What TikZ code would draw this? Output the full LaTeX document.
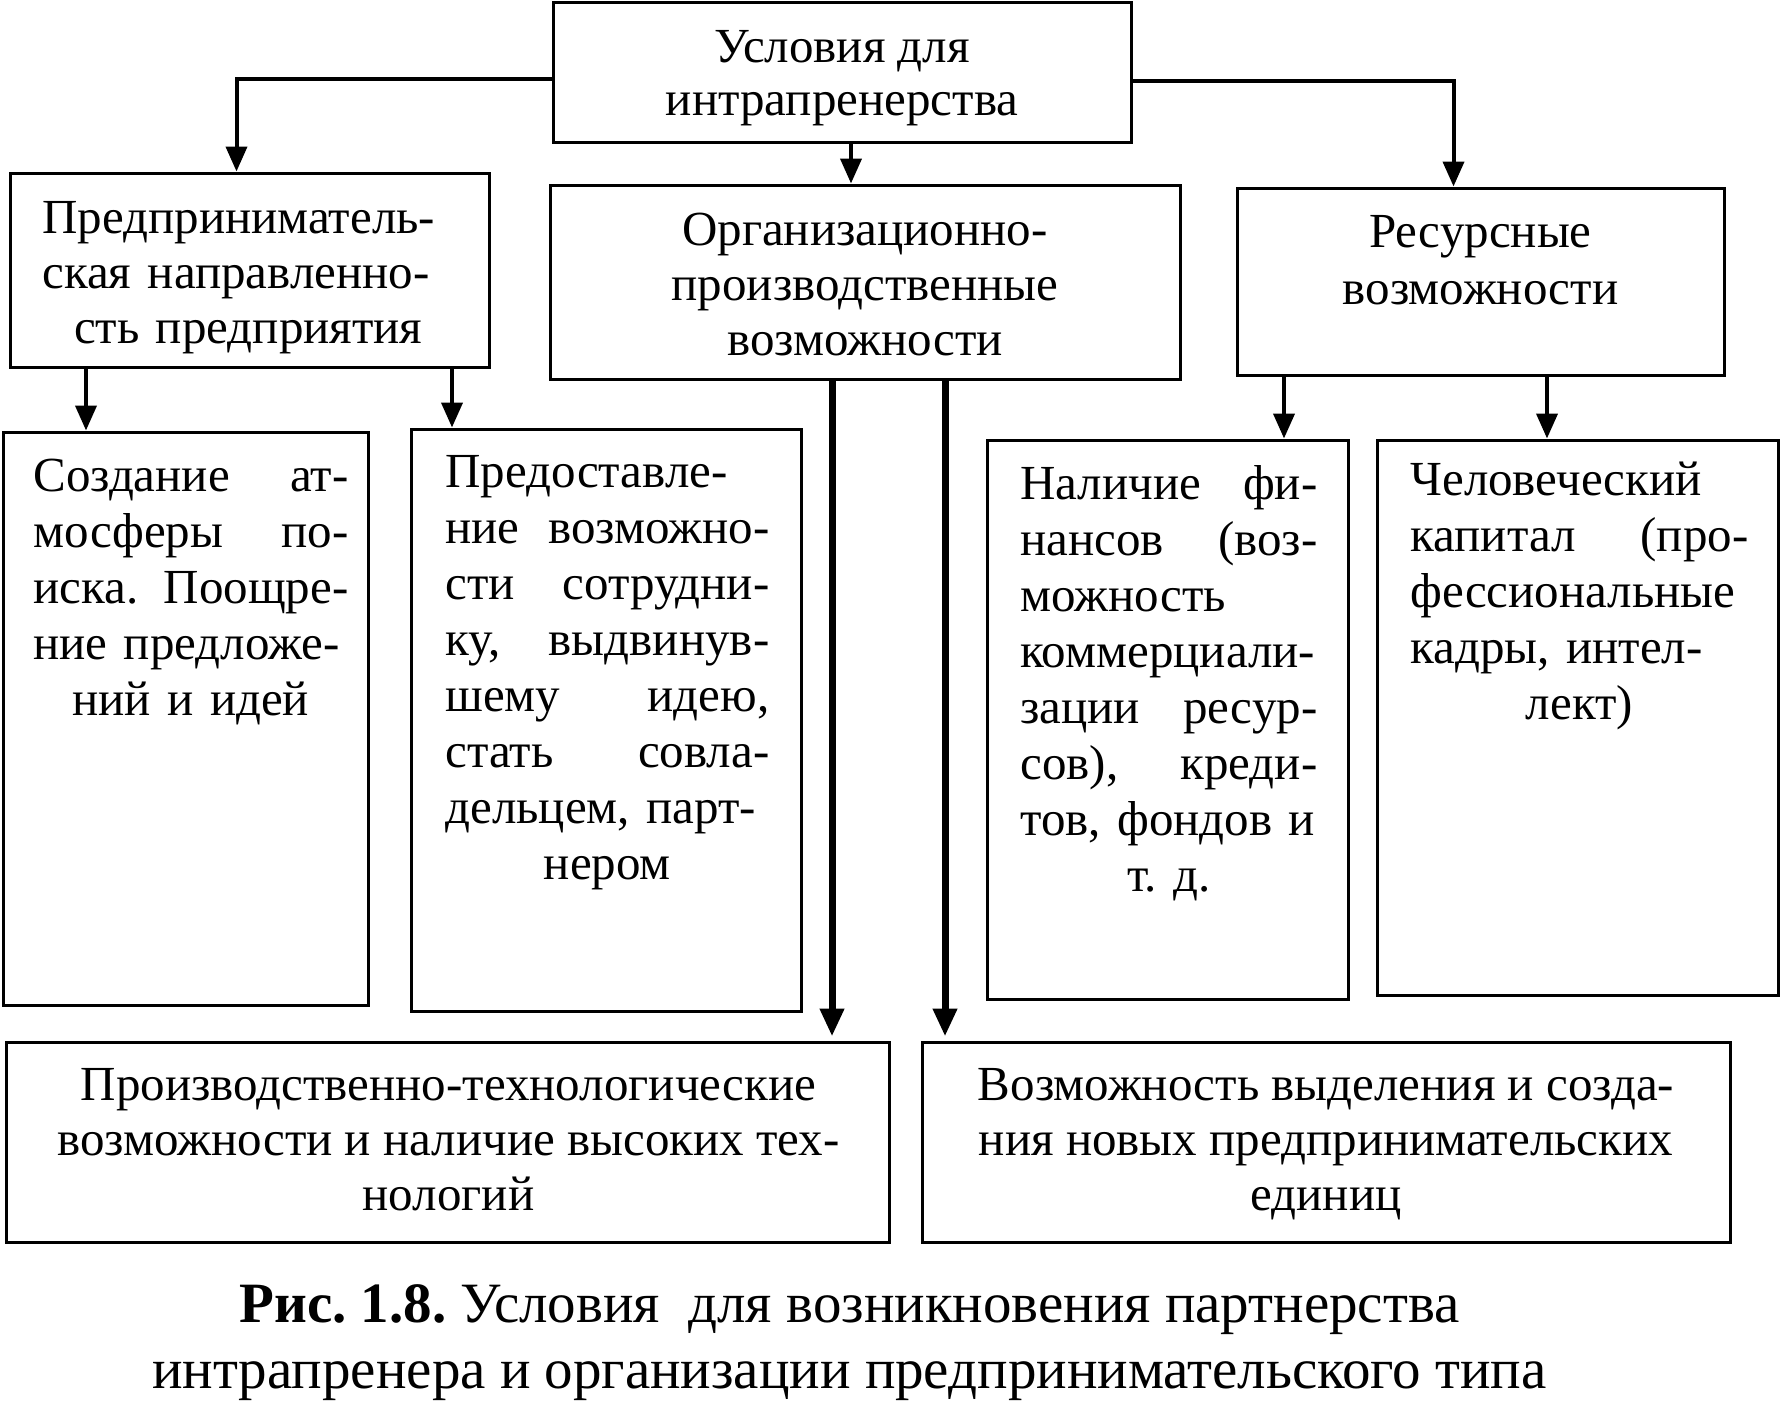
\documentclass[tikz,border=0pt]{standalone}
\usepackage{fontspec}
\setmainfont{Liberation Serif}
\usetikzlibrary{arrows.meta}
\frenchspacing
\newcommand\firstline{\rule{0pt}{19pt}}
\newcommand\JLine[2]{\makebox[\linewidth][l]{#1\hfill #2}}
\newcommand\LLine[1]{\makebox[\linewidth][l]{#1}}
\newcommand\CLine[1]{\makebox[\linewidth][c]{#1}}
\begin{document}
\begin{tikzpicture}[x=0.5pt,y=-0.5pt,
  box/.style={draw, line width=1.5pt, inner sep=0pt},
  conn/.style={line width=2pt, -{Triangle[length=12.5pt,width=10.5pt]}},
  bigconn/.style={line width=3.5pt, -{Triangle[length=14pt,width=11.5pt]}},
  txt/.style={inner sep=0pt, font=\fontsize{24.5}{28}\selectfont}]
\fill[white] (0,0) rectangle (1781,1402);
\useasboundingbox (0,0) rectangle (1781,1402);

% boxes
\node[box, minimum width=289pt,   minimum height=69.5pt] (top)   at (842,72.5) {};
\node[box, minimum width=239.5pt, minimum height=97pt]   (pred)  at (249.5,270) {};
\node[box, minimum width=315pt,   minimum height=97pt]   (org)   at (865,282) {};
\node[box, minimum width=243.5pt, minimum height=93.5pt] (res)   at (1480.5,281.5) {};
\node[box, minimum width=182.75pt,minimum height=286.5pt](sozd)  at (185.75,718.5) {};
\node[box, minimum width=194.75pt,minimum height=291pt]  (prov)  at (606.25,720) {};
\node[box, minimum width=180.25pt,minimum height=279.5pt](nal)   at (1167.75,719.5) {};
\node[box, minimum width=200.5pt, minimum height=277.5pt](chel)  at (1577.5,717.5) {};
\node[box, minimum width=441.5pt, minimum height=100pt]  (bl)    at (447.5,1142) {};
\node[box, minimum width=404pt,   minimum height=100pt]  (br)    at (1326,1142) {};

% texts
\node[txt, anchor=north, align=center, font=\fontsize{24.5}{26.5}\selectfont] (ttop) at (842,24)
  {\firstline Условия для\\интрапренерства};
\node[txt, anchor=north west, text width=196pt, align=left, font=\fontsize{24.5}{27.5}\selectfont] (tpred) at (42,195)
  {\firstline\LLine{Предприниматель-}\\\LLine{ская направленно-}\\\makebox[\linewidth][r]{сть предприятия\hspace{6pt}}};
\node[txt, anchor=north, align=center, font=\fontsize{24.5}{27.5}\selectfont] (torg) at (865,207)
  {\firstline Организационно-\\производственные\\возможности};
\node[txt, anchor=north, align=center, font=\fontsize{24.5}{28.5}\selectfont] (tres) at (1480.5,209)
  {\firstline Ресурсные\\возможности};
\node[txt, anchor=north west, text width=157.5pt, align=left] (tsozd) at (33,453)
  {\firstline\JLine{Создание}{ат-}\\\JLine{мосферы}{по-}\\\JLine{иска.}{Поощре-}\\\LLine{ние предложе-}\\\CLine{ний и идей}};
\node[txt, anchor=north west, text width=162pt, align=left] (tprov) at (445,449)
  {\firstline\LLine{Предоставле-}\\\JLine{ние}{возможно-}\\\JLine{сти}{сотрудни-}\\\JLine{ку,}{выдвинув-}\\\JLine{шему}{идею,}\\\JLine{стать}{совла-}\\\LLine{дельцем, парт-}\\\CLine{нером}};
\node[txt, anchor=north west, text width=148.5pt, align=left] (tnal) at (1020,461)
  {\firstline\JLine{Наличие}{фи-}\\\JLine{нансов}{(воз-}\\\LLine{можность}\\\LLine{коммерциали-}\\\JLine{зации}{ресур-}\\\JLine{сов),}{креди-}\\\LLine{тов, фондов и}\\\CLine{т. д.}};
\node[txt, anchor=north west, text width=169pt, align=left] (tchel) at (1410,457)
  {\firstline\LLine{Человеческий}\\\JLine{капитал}{(про-}\\\LLine{фессиональные}\\\LLine{кадры, интел-}\\\CLine{лект)}};
\node[txt, anchor=north, align=center, font=\fontsize{24.5}{27.5}\selectfont] (tbl) at (448.5,1062)
  {\firstline Производственно-технологические\\возможности и наличие высоких тех-\\нологий};
\node[txt, anchor=north, align=center, font=\fontsize{24.5}{27.5}\selectfont] (tbr) at (1326,1062)
  {\firstline Возможность выделения и созда-\\ния новых предпринимательских\\единиц};
\node[txt, anchor=north, align=center, font=\fontsize{28.5}{33}\selectfont] (cap) at (849.5,1278)
  {\rule{0pt}{22pt}\textbf{Рис. 1.8.} Условия~~для возникновения партнерства\\интрапренера и организации предпринимательского типа};

% connectors
\draw[conn] ([yshift=-3.25pt]top.west) -| ([xshift=-6.5pt]pred.north);
\draw[conn] ([yshift=-4.25pt]top.east) -| ([xshift=-13.5pt]res.north);
\draw[conn] ([xshift=4.5pt]top.south) -- ([xshift=4.5pt]top.south |- org.north);
\draw[conn] ([xshift=-81.75pt]pred.south) -- ([xshift=-81.75pt]pred.south |- sozd.north);
\draw[conn] ([xshift=101.25pt]pred.south) -- ([xshift=101.25pt]pred.south |- prov.north);
\draw[conn] ([xshift=-98.25pt]res.south) -- ([xshift=-98.25pt]res.south |- nal.north);
\draw[conn] ([xshift=33.25pt]res.south) -- ([xshift=33.25pt]res.south |- chel.north);
\draw[bigconn] ([xshift=-16.5pt]org.south) -- ([xshift=-16.5pt,yshift=2pt]org.south |- bl.north);
\draw[bigconn] ([xshift=40pt]org.south) -- ([xshift=40pt,yshift=2pt]org.south |- br.north);
\end{tikzpicture}
\end{document}
